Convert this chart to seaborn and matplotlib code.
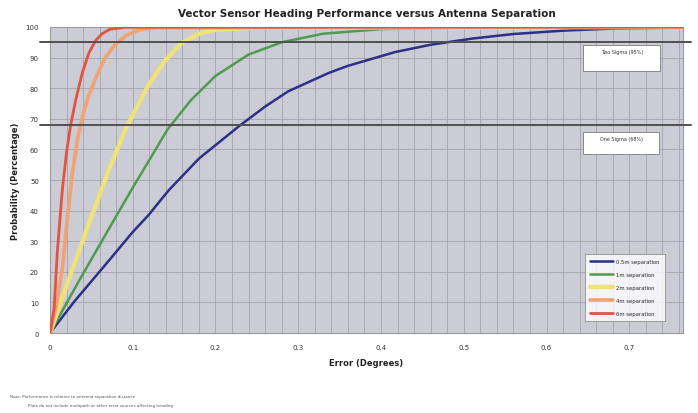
import matplotlib
matplotlib.use("Agg")
import matplotlib.pyplot as plt
import numpy as np
import pandas as pd
import seaborn as sns
from matplotlib.patches import Rectangle

# values (error in degrees, probability in %)
blue_err = [0, 0.03, 0.066, 0.10, 0.119, 0.143, 0.18, 0.228, 0.26, 0.288, 0.337, 0.36, 0.417, 0.46, 0.51, 0.56, 0.62, 0.68, 0.765]
blue_prob = [0, 10.5, 22, 33, 38.5, 46.5, 57, 67.5, 74, 79, 85, 87.3, 91.8, 94.2, 96.2, 97.7, 98.8, 99.5, 99.8]

green_err = [0, 0.035, 0.07, 0.10, 0.12, 0.142, 0.17, 0.20, 0.24, 0.28, 0.33, 0.40, 0.50, 0.765]
green_prob = [0, 17, 33.5, 47.5, 56.5, 66.5, 76, 84, 91, 95, 97.8, 99.3, 99.8, 100]

yellow_err = [0, 0.02, 0.046, 0.07, 0.092, 0.119, 0.139, 0.159, 0.18, 0.20, 0.25, 0.765]
yellow_prob = [0, 15.5, 35, 52.5, 67, 81, 89, 94.8, 97.8, 99.1, 99.8, 100]

orange_err = [0, 0.007, 0.015, 0.021, 0.027, 0.033, 0.040, 0.046, 0.057, 0.067, 0.078, 0.092, 0.108, 0.13, 0.765]
orange_prob = [0, 7.9, 21, 37.4, 52, 63, 71.5, 77, 84.5, 90, 94, 97.2, 99.1, 99.8, 100]

red_err = [0, 0.005, 0.009, 0.015, 0.020, 0.025, 0.031, 0.039, 0.047, 0.055, 0.063, 0.072, 0.09, 0.765]
red_prob = [0, 8, 27, 47, 59, 68, 76, 85, 91.5, 95.5, 97.8, 99.2, 99.9, 100]

labels = ["0.5m separation", "1m separation", "2m separation", "4m separation", "6m separation"]
colors = ["#2c3086", "#4f9b4f", "#efe27a", "#f2a274", "#e2543f"]
widths = [1.8, 1.8, 3.2, 2.6, 2.0]

sigma_levels = [95, 68]
sigma_labels = ["Two Sigma (95%)", "One Sigma (68%)"]

series = [(blue_err, blue_prob), (green_err, green_prob), (yellow_err, yellow_prob),
          (orange_err, orange_prob), (red_err, red_prob)]

sns.set_theme(style="whitegrid")
plt.rcParams["font.family"] = ["DejaVu Sans"]

fig = plt.figure(figsize=(6.98, 4.14), dpi=100)
ax = fig.add_axes([0.0716, 0.1932, 0.907, 0.7392])
ax.set_facecolor("#cbccd5")

for (x, y), lab, col, lw in zip(series, labels, colors, widths):
    df = pd.DataFrame({"err": x, "prob": y})
    sns.lineplot(data=df, x="err", y="prob", ax=ax, color=col, linewidth=lw,
                 label=lab, sort=False, zorder=3)

for lvl in sigma_levels:
    ax.axhline(lvl, xmin=-0.015, xmax=1.012, color="#505050", linewidth=1.4,
               clip_on=False, zorder=4)

ax.set_xlim(0, 0.765)
ax.set_ylim(0, 100)
ax.set_xticks(np.arange(0, 0.71, 0.1))
ax.set_xticklabels(["0", "0.1", "0.2", "0.3", "0.4", "0.5", "0.6", "0.7"])
ax.set_xticks(np.arange(0, 0.765, 0.02), minor=True)
ax.set_yticks(np.arange(0, 101, 10))
ax.grid(True, which="both", color="#a3a4ac", linewidth=0.6)
ax.tick_params(axis="both", labelsize=5, colors="#333333", length=2, pad=6)
ax.tick_params(axis="x", which="minor", length=0)

for s in ax.spines.values():
    s.set_color("#9a9aa0")
    s.set_linewidth(0.8)

ax.set_xlabel("Error (Degrees)", fontsize=6, fontweight="bold", color="#222222", labelpad=6)
ax.set_ylabel("Probability (Percentage)", fontsize=6, fontweight="bold", color="#222222", labelpad=4)
ax.set_title("Vector Sensor Heading Performance versus Antenna Separation",
             fontsize=7.5, fontweight="bold", color="#222222", pad=8)

# sigma label boxes
boxes = [(0.842, 0.856, 0.122, 0.085), (0.842, 0.585, 0.120, 0.072)]
for (bx, by, bw, bh), txt in zip(boxes, sigma_labels):
    ax.add_patch(Rectangle((bx, by), bw, bh, transform=ax.transAxes, facecolor="white",
                           edgecolor="#8a8a8a", linewidth=0.7, zorder=5))
    ax.text(bx + bw / 2, by + bh - 0.012, txt, transform=ax.transAxes, fontsize=3.5,
            ha="center", va="top", color="#333333", zorder=6)

leg = ax.legend(loc="lower right", bbox_to_anchor=(0.975, 0.03), fontsize=3.8,
                frameon=True, fancybox=False, handlelength=4.2, labelspacing=1.5,
                borderpad=1.0, handletextpad=0.6)
leg.get_frame().set_edgecolor("#8a8a8a")
leg.get_frame().set_linewidth(0.7)
leg.set_zorder(6)

fig.text(0.014, 0.039, "Note: Performance is relative to antenna separation distance",
         fontsize=3, color="#555555")
fig.text(0.04, 0.017, "Plots do not include multipath or other error sources affecting heading",
         fontsize=3, color="#555555")

fig.savefig("out.png", dpi=100, facecolor="white")
